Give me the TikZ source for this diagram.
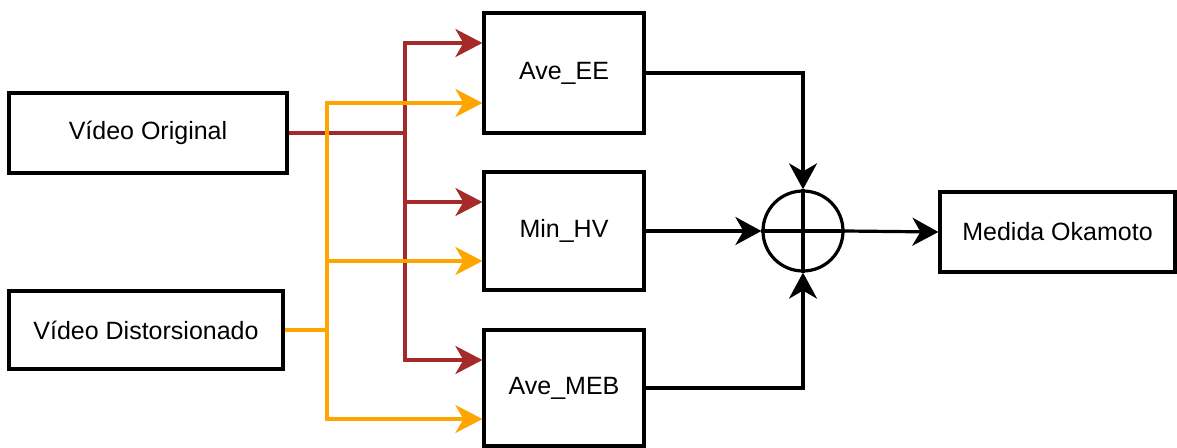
\documentclass[tikz,border=0pt]{standalone}
\usepackage{fontspec}
\setmainfont{Liberation Sans}
\usetikzlibrary{arrows.meta}
\definecolor{redline}{HTML}{A52A2A}
\definecolor{orangeline}{HTML}{FFA500}
\begin{document}
\begin{tikzpicture}[x=0.5pt,y=-0.5pt,
  box/.style={draw=black,line width=1.6pt,fill=white,inner sep=0pt,font=\fontsize{12.5pt}{15pt}\selectfont},
  tipc/.style={-{Stealth[length=13.5pt,width=14pt,inset=4pt]}},
  redarrow/.style={draw=redline,line width=1.6pt,tipc},
  orangearrow/.style={draw=orangeline,line width=1.6pt,tipc},
  blkarrow/.style={draw=black,line width=1.6pt,-{Stealth[length=13pt,width=14pt,inset=4pt]}},
  sumnode/.style={circle,draw=black,line width=1.6pt,minimum size=40pt,inner sep=0pt}]
\useasboundingbox (0,0) rectangle (1177,448);
\node[box,minimum width=139pt,minimum height=40pt] (VO) at (148,133) {Vídeo Original};
\node[box,minimum width=137pt,minimum height=39pt] (VD) at (146,330) {Vídeo Distorsionado};
\node[box,minimum width=80pt,minimum height=60pt] (AEE) at (564,73) {Ave\_EE};
\node[box,minimum width=80pt,minimum height=59pt] (MHV) at (564,231) {Min\_HV};
\node[box,minimum width=80pt,minimum height=58pt] (AMEB) at (564,388) {Ave\_MEB};
\node[sumnode] (S) at (803,231) {};
\node[box,minimum width=117.5pt,minimum height=40pt] (OK) at (1057.5,232) {Medida Okamoto};
\draw[line width=1.6pt] (S.north) -- (S.south);
\draw[line width=1.6pt] (S.west) -- (S.east);
\coordinate (rj) at (405,133);
\coordinate (oj) at (327,330);
% red connectors
\draw[redarrow] (VO.east) -- (rj) |- ([yshift=15pt]AEE.west);
\draw[redarrow] (VO.east) -- (rj) |- ([yshift=14.5pt]MHV.west);
\draw[redarrow] (VO.east) -- (rj) |- ([yshift=14pt]AMEB.west);
% orange connectors
\draw[orangearrow] (VD.east) -- (oj) |- ([yshift=-15pt]AEE.west);
\draw[orangearrow] (VD.east) -- (oj) |- ([yshift=-15pt]MHV.west);
\draw[orangearrow] (VD.east) -- (oj) |- ([yshift=-15.5pt]AMEB.west);
% black connectors
\draw[blkarrow] (AEE.east) -| (S.north);
\draw[blkarrow] (MHV.east) -- (S.west);
\draw[blkarrow] (AMEB.east) -| (S.south);
\draw[blkarrow] (S.east) -- (OK.west);
\end{tikzpicture}
\end{document}
